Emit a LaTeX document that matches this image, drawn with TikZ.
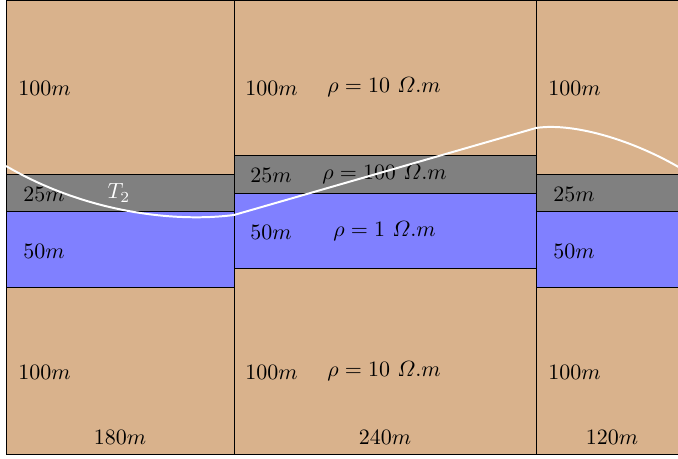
\documentclass[tikz,border=0pt]{standalone}
\usepackage{amsmath}
\begin{document}
\begin{tikzpicture}[x=0.016cm,y=-0.016cm,
  soil/.style={fill=brown!60,draw=black},
  clay/.style={fill=gray,draw=black},
  water/.style={fill=blue!50,draw=black},
  lbl/.style={inner sep=0pt,anchor=west},
  clbl/.style={inner sep=0pt}]
\useasboundingbox (0,0) rectangle (678,459);
\clip (0,0) rectangle (678,459);
% left column
\path[soil]  (6,0)   rectangle (234,174);
\path[clay]  (6,174) rectangle (234,211);
\path[water] (6,211) rectangle (234,287);
\path[soil]  (6,287) rectangle (234,454);
% middle column
\path[soil]  (234,0)   rectangle (536,155);
\path[clay]  (234,155) rectangle (536,193);
\path[water] (234,193) rectangle (536,268);
\path[soil]  (234,268) rectangle (536,454);
% right column
\path[soil]  (536,0)   rectangle (700,174);
\path[clay]  (536,174) rectangle (700,211);
\path[water] (536,211) rectangle (700,287);
\path[soil]  (536,287) rectangle (700,454);
% labels
\node[lbl] (l1) at (18,88)  {$100m$};
\node[lbl] (m1) at (245,88) {$100m$};
\node[lbl] (r1) at (327,87) {$\rho=10\ \varOmega.m$};
\node[lbl] (q1) at (548,88) {$100m$};
\node[lbl] (l2) at (23,194) {$25m$};
\node[lbl] (m2) at (250,175) {$25m$};
\node[lbl] (r2) at (322,174) {$\rho=100\ \varOmega.m$};
\node[lbl] (q2) at (553,194) {$25m$};
\node[lbl] (l3) at (23,251) {$50m$};
\node[lbl] (m3) at (250,232) {$50m$};
\node[lbl] (r3) at (333,231) {$\rho=1\ \varOmega.m$};
\node[lbl] (q3) at (553,251) {$50m$};
\node[lbl] (l4) at (18,372) {$100m$};
\node[lbl] (m4) at (245,372) {$100m$};
\node[lbl] (r4) at (327,371) {$\rho=10\ \varOmega.m$};
\node[lbl] (q4) at (548,372) {$100m$};
\node[clbl] (w1) at (120,437) {$180m$};
\node[clbl] (w2) at (385,437) {$240m$};
\node[clbl] (w3) at (612,437) {$120m$};
\node[clbl,text=white] (t2) at (119,193) {$T_2$};
% profile curve
\draw[white,line width=0.9pt] (6,166) .. controls (90,215) and (180,222) .. (234,215)
  -- (536,128) .. controls (575,122) and (640,142) .. (690,174);
\end{tikzpicture}
\end{document}
